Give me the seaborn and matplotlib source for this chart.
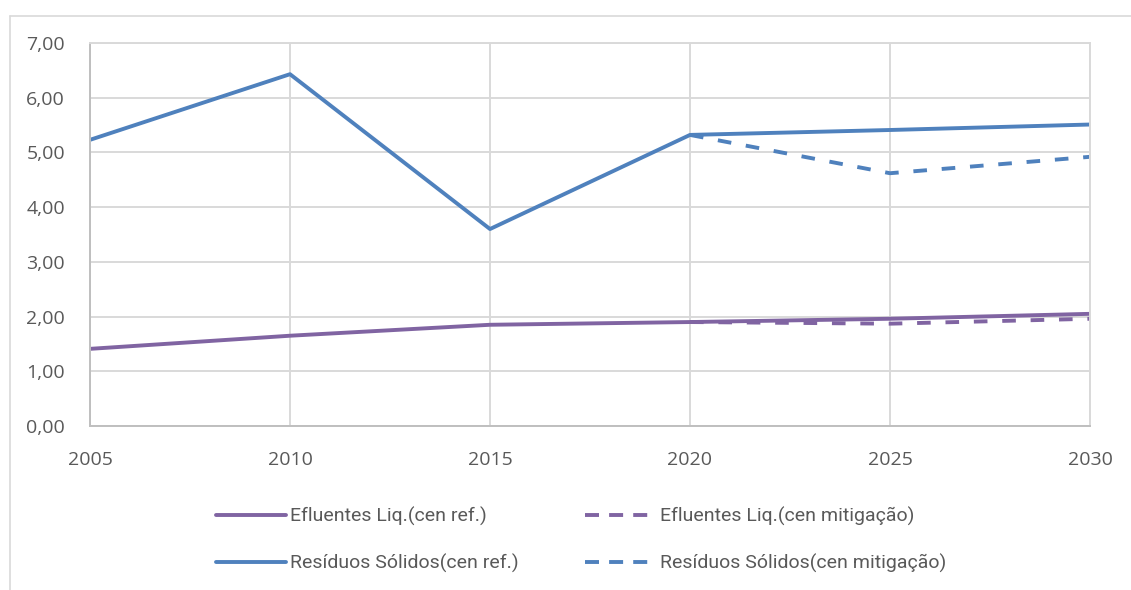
import matplotlib
matplotlib.use("Agg")
import matplotlib.pyplot as plt
import seaborn as sns
import pandas as pd
from matplotlib import font_manager
from matplotlib.ticker import FuncFormatter
from matplotlib.lines import Line2D

years_ref = [2005, 2010, 2015, 2020, 2025, 2030]
years_mit = [2020, 2025, 2030]
efl_ref = [1.41, 1.65, 1.85, 1.90, 1.96, 2.05]
efl_mit = [1.90, 1.87, 1.96]
res_ref = [5.23, 6.43, 3.60, 5.32, 5.41, 5.51]
res_mit = [5.32, 4.62, 4.92]
labels = ["Efluentes Liq.(cen ref.)", "Efluentes Liq.(cen mitigação)",
          "Resíduos Sólidos(cen ref.)", "Resíduos Sólidos(cen mitigação)"]
yticks = [0, 1, 2, 3, 4, 5, 6, 7]
xticks = [2005, 2010, 2015, 2020, 2025, 2030]

frames = []
for lab, xs, ys in zip(labels, [years_ref, years_mit, years_ref, years_mit],
                       [efl_ref, efl_mit, res_ref, res_mit]):
    frames.append(pd.DataFrame({"ano": xs, "valor": ys, "serie": lab}))
df = pd.concat(frames, ignore_index=True)

sns.set_theme(style="white")
names = {f.name for f in font_manager.fontManager.ttflist}
tick_font = "Open Sans" if "Open Sans" in names else "DejaVu Sans"
leg_font = "Liberation Sans Narrow" if "Liberation Sans Narrow" in names else "Roboto"
plt.rcParams["font.family"] = [tick_font, "DejaVu Sans"]

blue = "#4F81BD"
purple = "#8064A2"
palette = {labels[0]: purple, labels[1]: purple, labels[2]: blue, labels[3]: blue}
dash_pat = (3.5, 3.8)
dashes = {labels[0]: "", labels[1]: dash_pat, labels[2]: "", labels[3]: dash_pat}
lw = 2.8

fig = plt.figure(figsize=(11.31, 5.90), dpi=100)
ax = fig.add_axes([90 / 1131, 1 - 426 / 590, 1000 / 1131, 383 / 590])

sns.lineplot(data=df, x="ano", y="valor", hue="serie", style="serie",
             hue_order=labels, style_order=labels, palette=palette,
             dashes=dashes, linewidth=lw, ax=ax, legend=False)

ax.set_xlim(2005, 2030)
ax.set_ylim(0, 7)
ax.set_xticks(xticks)
ax.set_yticks(yticks)
ax.yaxis.set_major_formatter(FuncFormatter(lambda v, p: f"{v:.2f}".replace(".", ",")))
ax.grid(True, color="#D9D9D9", linewidth=1.4)
ax.set_axisbelow(True)
for s in ax.spines.values():
    s.set_color("#D9D9D9")
    s.set_linewidth(1.4)
ax.spines["bottom"].set_color("#BFBFBF")
ax.spines["left"].set_color("#BFBFBF")
ax.tick_params(axis="both", length=0, labelsize=14, labelcolor="#595959")
ax.tick_params(axis="x", pad=18)
ax.tick_params(axis="y", pad=18)
ax.set_xlabel("")
ax.set_ylabel("")

leg_dash = (3.6, 2.6)
handles = [Line2D([], [], color=palette[l], linewidth=lw,
                  linestyle="-" if dashes[l] == "" else (0, leg_dash)) for l in labels]
order = [0, 2, 1, 3]
leg = fig.legend([handles[i] for i in order], [labels[i] for i in order],
                 ncol=2, loc="center left", bbox_to_anchor=(198 / 1131, 1 - 540 / 590),
                 frameon=False, handlelength=3.6, handletextpad=0.25,
                 columnspacing=3.42, labelspacing=1.42,
                 prop={"family": [leg_font, "DejaVu Sans"], "size": 14})
for t in leg.get_texts():
    t.set_color("#595959")

fig.add_artist(Line2D([10 / 1131, 1.0], [1 - 16 / 590] * 2, color="#D9D9D9",
                      linewidth=1.2, transform=fig.transFigure))
fig.add_artist(Line2D([10 / 1131] * 2, [0, 1 - 16 / 590], color="#D9D9D9",
                      linewidth=1.2, transform=fig.transFigure))

fig.savefig("out.png", dpi=100)
